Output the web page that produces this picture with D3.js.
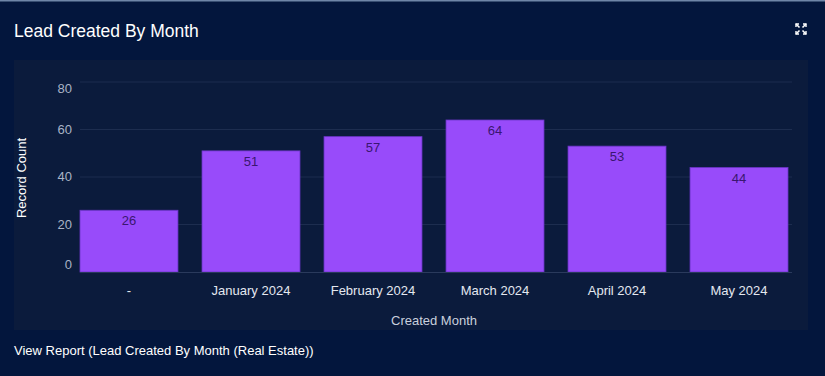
<!DOCTYPE html>
<html><head><meta charset="utf-8">
<script src="https://cdn.jsdelivr.net/npm/d3@7"></script>
<style>
html,body{margin:0;padding:0;background:#03163d;overflow:hidden}
svg{display:block}
</style></head>
<body>
<svg id="c" width="825" height="376"></svg>
<script>
const categories = ["-", "January 2024", "February 2024", "March 2024", "April 2024", "May 2024"];
const values = [26, 51, 57, 64, 53, 44];
const yTicks = [0, 20, 40, 60, 80];
const title = "Lead Created By Month";
const xTitle = "Created Month";
const yTitle = "Record Count";
const footer = "View Report (Lead Created By Month (Real Estate))";

const svg = d3.select("#c");
const W = 825, H = 376;
svg.append("rect").attr("width", W).attr("height", H).attr("fill", "#03163d");
svg.append("rect").attr("x", 0).attr("y", 0).attr("width", W).attr("height", 1.5).attr("fill", "#6f86a8");
// inner panel
svg.append("rect").attr("x", 14).attr("y", 60).attr("width", 794).attr("height", 270).attr("fill", "#0b1b3c");

svg.append("text").attr("x", 14).attr("y", 37).text(title)
  .attr("fill", "#ffffff").attr("font-family", "Liberation Sans, Arial, sans-serif").attr("font-size", 17.5);

// expand icon
const ic = svg.append("g").attr("transform", "translate(801,29)").attr("stroke", "#ffffff").attr("stroke-width", 1.6).attr("fill", "none");
[[-1,-1],[1,-1],[-1,1],[1,1]].forEach(([sx,sy]) => {
  ic.append("path").attr("d", `M${sx*1.5},${sy*1.5} L${sx*5},${sy*5}`);
  ic.append("path").attr("d", `M${sx*5},${sy*2} L${sx*5},${sy*5} L${sx*2},${sy*5}`).attr("stroke-width", 1.4);
});

const x = d3.scaleBand().domain(categories).range([80, 788]).paddingInner(0.197).paddingOuter(0);
const y = d3.scaleLinear().domain([0, 80]).range([272, 82]);

const font = "Liberation Sans, Arial, sans-serif";
// grid
svg.append("g").selectAll("line").data(yTicks.filter(d => d > 0)).join("line")
  .attr("x1", 80).attr("x2", 792).attr("y1", d => y(d)).attr("y2", d => y(d))
  .attr("stroke", "#1d2d4f").attr("stroke-width", 1);

// y tick labels (clamped inside range like source)
svg.append("g").selectAll("text").data(yTicks).join("text")
  .attr("x", 72).attr("text-anchor", "end")
  .attr("y", d => Math.min(Math.max(y(d), 89), 265) + 4)
  .text(d => d).attr("fill", "#a9b3c6").attr("font-family", font).attr("font-size", 13);

// bars
svg.append("g").selectAll("rect").data(values).join("rect")
  .attr("x", (d, i) => x(categories[i])).attr("width", x.bandwidth())
  .attr("y", d => y(d)).attr("height", d => y(0) - y(d))
  .attr("fill", "#984bfa").attr("stroke", "#6a35c6").attr("stroke-width", 0.8);

// baseline
svg.append("line").attr("x1", 80).attr("x2", 792).attr("y1", y(0)+0.5).attr("y2", y(0)+0.5)
  .attr("stroke", "#2a3a5c").attr("stroke-width", 1);

// value labels
svg.append("g").selectAll("text").data(values).join("text")
  .attr("x", (d, i) => x(categories[i]) + x.bandwidth() / 2)
  .attr("y", d => y(d) + 15).attr("text-anchor", "middle")
  .text(d => d).attr("fill", "#3a1670").attr("font-family", font).attr("font-size", 13);

// x axis labels
svg.append("g").selectAll("text").data(categories).join("text")
  .attr("x", d => x(d) + x.bandwidth() / 2).attr("y", 295).attr("text-anchor", "middle")
  .text(d => d).attr("fill", "#e4e8f0").attr("font-family", font).attr("font-size", 13);

svg.append("text").attr("x", 434).attr("y", 325).attr("text-anchor", "middle")
  .text(xTitle).attr("fill", "#c9d0dc").attr("font-family", font).attr("font-size", 13);

svg.append("text").attr("transform", "translate(26,178) rotate(-90)").attr("text-anchor", "middle")
  .text(yTitle).attr("fill", "#ffffff").attr("font-family", font).attr("font-size", 13);

svg.append("text").attr("x", 14).attr("y", 355)
  .text(footer).attr("fill", "#ffffff").attr("font-family", font).attr("font-size", 13);
</script>
</body></html>
